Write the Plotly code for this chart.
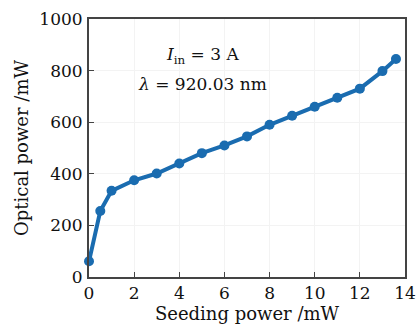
import plotly.graph_objects as go

seeding_power = [0, 0.5, 1, 2, 3, 4, 5, 6, 7, 8, 9, 10, 11, 12, 13, 13.6]
optical_power = [61, 256, 334, 375, 401, 440, 480, 510, 545, 590, 625, 660, 695, 730, 798, 845]
x_ticks = [0, 2, 4, 6, 8, 10, 12, 14]
y_ticks = [0, 200, 400, 600, 800, 1000]

FONT = "DejaVu Serif"
color = "#1a6cb0"

fig = go.Figure(go.Scatter(
    x=seeding_power, y=optical_power, mode="lines+markers",
    line=dict(color=color, width=4),
    marker=dict(color=color, size=10),
    cliponaxis=False,
))

axis_common = dict(
    showline=True, linecolor="#444444", linewidth=2, mirror=True,
    ticks="inside", ticklen=5, tickwidth=1.2, tickcolor="#444444",
    showgrid=True, gridcolor="#f3f3f3", gridwidth=1, zeroline=False,
    tickfont=dict(family=FONT, size=17, color="#111111"),
    automargin=False,
)

fig.update_layout(
    width=419, height=324,
    margin=dict(l=89, r=14, t=19, b=47),
    paper_bgcolor="white", plot_bgcolor="white",
    showlegend=False,
    font=dict(family=FONT, color="#111111"),
    xaxis=dict(range=[0, 14], tickvals=x_ticks, **axis_common,
               title=dict(text="Seeding power /mW", font=dict(family=FONT, size=18), standoff=0)),
    yaxis=dict(range=[0, 1000], tickvals=y_ticks, **axis_common, ticklabelstandoff=1,
               title=dict(text="Optical power /mW", font=dict(family=FONT, size=18), standoff=6)),
    annotations=[
        dict(x=0.36, y=0.91, xref="paper", yref="paper", showarrow=False,
             text="<i>I</i><sub>in</sub> = 3 A", font=dict(family=FONT, size=17)),
        dict(x=0.36, y=0.795, xref="paper", yref="paper", showarrow=False,
             text="<i>λ</i> = 920.03 nm", font=dict(family=FONT, size=17)),
    ],
)

fig.write_html("out.html", config={"displayModeBar": False},
               post_script="document.body.style.margin='0';document.body.style.overflow='hidden';")
